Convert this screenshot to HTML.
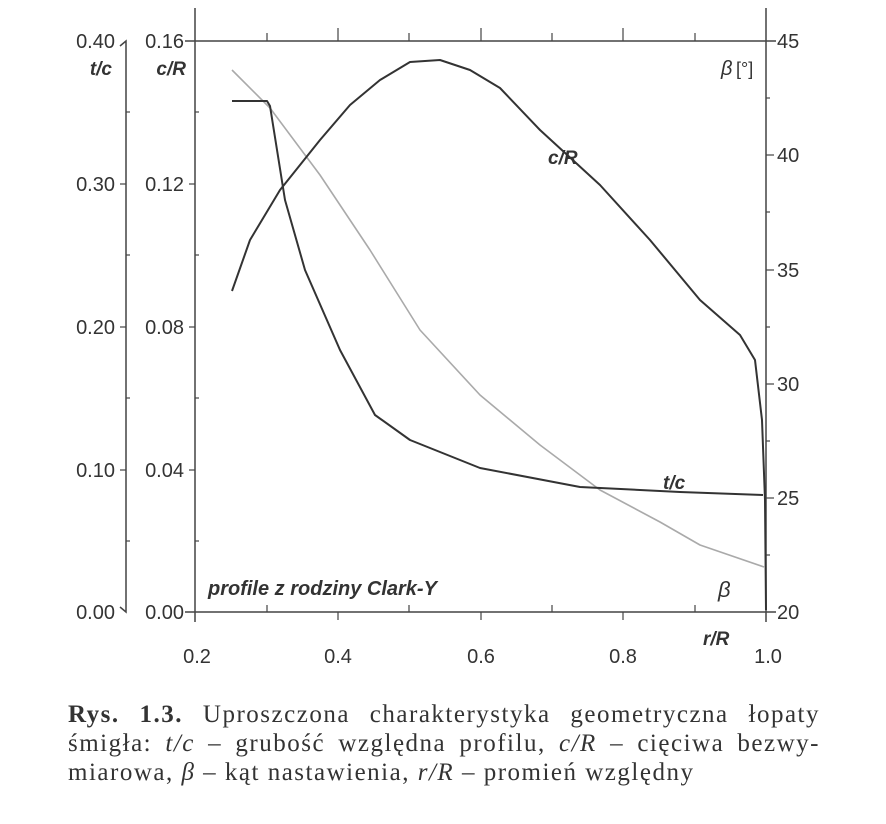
<!DOCTYPE html><html><head><style>
body{margin:0;background:#fff;width:886px;height:824px;overflow:hidden;}
.cap{position:absolute;left:68px;width:752px;font-family:"Liberation Serif",serif;font-size:25px;line-height:29px;letter-spacing:1.5px;color:#333;white-space:nowrap}
.j{text-align:justify;text-align-last:justify}
</style></head><body>
<svg width="886" height="690" style="position:absolute;left:0;top:0" font-family="Liberation Sans, sans-serif" fill="#333">
<g stroke="#444" stroke-width="1.5" fill="none">
<line x1="195" y1="8" x2="195" y2="622"/>
<line x1="766" y1="8" x2="766" y2="622"/>
<line x1="185" y1="41" x2="776" y2="41"/>
<line x1="185" y1="612" x2="776" y2="612"/>
<polyline points="120,46 126,41 126,612 120,607"/>
</g>
<g stroke="#444" stroke-width="1.2">
<line x1="267" y1="41" x2="267" y2="33"/><line x1="338" y1="41" x2="338" y2="28"/><line x1="409" y1="41" x2="409" y2="33"/><line x1="481" y1="41" x2="481" y2="28"/><line x1="552" y1="41" x2="552" y2="33"/><line x1="623" y1="41" x2="623" y2="28"/><line x1="695" y1="41" x2="695" y2="33"/>
<line x1="267" y1="612" x2="267" y2="605"/><line x1="338" y1="612" x2="338" y2="620"/><line x1="409" y1="612" x2="409" y2="605"/><line x1="481" y1="612" x2="481" y2="620"/><line x1="552" y1="612" x2="552" y2="605"/><line x1="623" y1="612" x2="623" y2="620"/><line x1="695" y1="612" x2="695" y2="605"/>
<line x1="189" y1="184" x2="195" y2="184"/><line x1="189" y1="327" x2="195" y2="327"/><line x1="189" y1="470" x2="195" y2="470"/>
<line x1="195" y1="112" x2="199" y2="112"/><line x1="195" y1="255" x2="199" y2="255"/><line x1="195" y1="398" x2="199" y2="398"/><line x1="195" y1="541" x2="199" y2="541"/>
<line x1="120" y1="184" x2="126" y2="184"/><line x1="120" y1="327" x2="126" y2="327"/><line x1="120" y1="470" x2="126" y2="470"/>
<line x1="126" y1="112" x2="130" y2="112"/><line x1="126" y1="255" x2="130" y2="255"/><line x1="126" y1="398" x2="130" y2="398"/><line x1="126" y1="541" x2="130" y2="541"/>
<line x1="766" y1="155" x2="774" y2="155"/><line x1="766" y1="270" x2="774" y2="270"/><line x1="766" y1="384" x2="774" y2="384"/><line x1="766" y1="498" x2="774" y2="498"/>
<line x1="766" y1="98" x2="770" y2="98"/><line x1="766" y1="212" x2="770" y2="212"/><line x1="766" y1="327" x2="770" y2="327"/><line x1="766" y1="441" x2="770" y2="441"/><line x1="766" y1="555" x2="770" y2="555"/>
</g>
<g font-size="20">
<text x="115" y="48" text-anchor="end">0.40</text><text x="115" y="191" text-anchor="end">0.30</text><text x="115" y="334" text-anchor="end">0.20</text><text x="115" y="477" text-anchor="end">0.10</text><text x="115" y="619" text-anchor="end">0.00</text>
<text x="184" y="48" text-anchor="end">0.16</text><text x="184" y="191" text-anchor="end">0.12</text><text x="184" y="334" text-anchor="end">0.08</text><text x="184" y="477" text-anchor="end">0.04</text><text x="184" y="619" text-anchor="end">0.00</text>
<text x="777" y="48">45</text><text x="777" y="162">40</text><text x="777" y="277">35</text><text x="777" y="391">30</text><text x="777" y="505">25</text><text x="777" y="619">20</text>
<text x="197" y="663" text-anchor="middle">0.2</text><text x="338" y="663" text-anchor="middle">0.4</text><text x="481" y="663" text-anchor="middle">0.6</text><text x="623" y="663" text-anchor="middle">0.8</text><text x="768" y="663" text-anchor="middle">1.0</text>
</g>
<g font-size="19" font-weight="bold" font-style="italic">
<text x="112" y="75" text-anchor="end">t/c</text><text x="186" y="75" text-anchor="end">c/R</text>
<text x="548" y="164">c/R</text><text x="663" y="489">t/c</text><text x="703" y="645">r/R</text>
<text x="208" y="595" font-size="20">profile z rodziny Clark-Y</text>
</g>
<text x="721" y="75" font-size="20" font-style="italic">β</text><text x="736" y="75" font-size="18">[°]</text>
<text x="718" y="597" font-size="22" font-style="italic">β</text>
<g fill="none" stroke-linejoin="round">
<polyline stroke="#aaa" stroke-width="1.6" points="232,70 270,108 320,175 370,250 420,330 480,395 540,445 600,490 660,522 700,545 764,567"/>
<polyline stroke="#333" stroke-width="2" points="232,101 267,101 270,106 285,200 305,270 340,350 375,415 410,440 480,468 580,487 680,492 763,495"/>
<polyline stroke="#333" stroke-width="2" points="232,291 250,240 280,190 320,140 350,105 380,80 410,62 440,60 470,70 500,88 540,130 600,185 650,240 700,300 740,335 755,360 762,420 765,500 766,610"/>
</g>
</svg>
<div class="cap j" style="top:700px"><b>Rys. 1.3.</b> Uproszczona charakterystyka geometryczna łopaty</div>
<div class="cap j" style="top:729px">śmigła: <i>t/c</i> – grubość względna profilu, <i>c/R</i> – cięciwa bezwy-</div>
<div class="cap" style="top:758px">miarowa, <i>β</i> – kąt nastawienia, <i>r/R</i> – promień względny</div>
</body></html>
